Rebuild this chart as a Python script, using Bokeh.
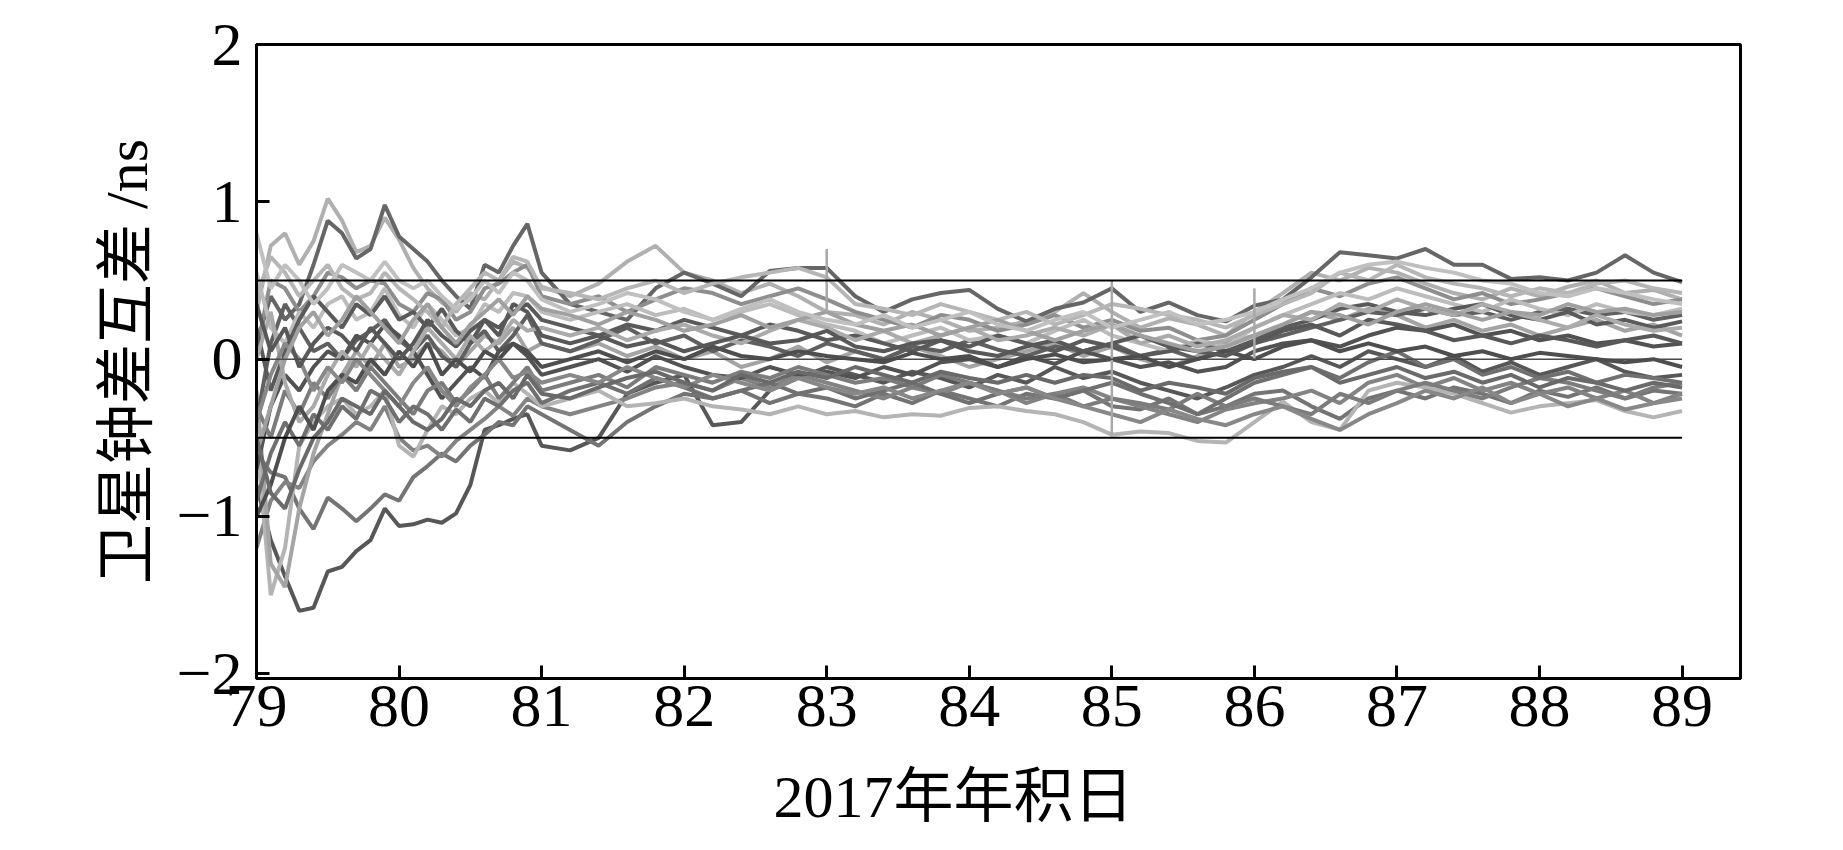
from bokeh.plotting import figure
from bokeh.models import Range1d, FixedTicker
from bokeh.embed import file_html
from bokeh.resources import INLINE

# ---- data ----
days = [79.0, 79.1, 79.2, 79.3, 79.4, 79.5, 79.6, 79.7, 79.8, 79.9, 80.0,
        80.1, 80.2, 80.3, 80.4, 80.5, 80.6, 80.7, 80.8, 80.9, 81.0,
        81.2, 81.4, 81.6, 81.8, 82.0, 82.2, 82.4, 82.6, 82.8, 83.0,
        83.2, 83.4, 83.6, 83.8, 84.0, 84.2, 84.4, 84.6, 84.8, 85.0,
        85.2, 85.4, 85.6, 85.8, 86.0, 86.2, 86.4, 86.6, 86.8, 87.0,
        87.2, 87.4, 87.6, 87.8, 88.0, 88.2, 88.4, 88.6, 88.8, 89.0]

s01 = [0.30, 0.72, 0.80, 0.60, 0.75, 1.02, 0.88, 0.68, 0.72, 0.90, 0.76, 0.58, 0.45, 0.36, 0.30, 0.42, 0.38, 0.50, 0.62, 0.58, 0.46,
       0.40, 0.48, 0.62, 0.72, 0.55, 0.50, 0.42, 0.48, 0.40, 0.30, 0.28, 0.22, 0.30, 0.25, 0.18, 0.20, 0.24, 0.30, 0.42, 0.30,
       0.20, 0.26, 0.22, 0.15, 0.30, 0.42, 0.55, 0.50, 0.58, 0.55, 0.48, 0.42, 0.38, 0.45, 0.40, 0.46, 0.50, 0.42, 0.44, 0.38]
s02 = [0.10, 0.40, 0.25, 0.35, 0.60, 0.88, 0.80, 0.64, 0.70, 0.98, 0.78, 0.70, 0.62, 0.50, 0.40, 0.32, 0.60, 0.55, 0.72, 0.86, 0.55,
       0.35, 0.30, 0.25, 0.45, 0.55, 0.48, 0.40, 0.56, 0.58, 0.58, 0.40, 0.30, 0.38, 0.42, 0.44, 0.32, 0.24, 0.32, 0.36, 0.45,
       0.30, 0.36, 0.28, 0.24, 0.34, 0.38, 0.52, 0.68, 0.66, 0.64, 0.70, 0.60, 0.60, 0.51, 0.52, 0.50, 0.55, 0.66, 0.55, 0.49]
s03 = [-0.80, -1.15, -1.38, -1.60, -1.58, -1.35, -1.32, -1.22, -1.15, -0.95, -1.06, -1.05, -1.02, -1.04, -0.98, -0.80, -0.45, -0.42, -0.38, -0.35, -0.55,
       -0.58, -0.50, -0.22, -0.15, -0.10, -0.42, -0.40, -0.20, -0.12, -0.05, -0.10, -0.15, -0.08, -0.12, -0.18, -0.10, -0.15, -0.05, -0.12, -0.08,
       -0.15, -0.20, -0.25, -0.18, -0.10, -0.05, 0.02, -0.05, 0.05, 0.00, -0.05, 0.02, -0.08, -0.02, -0.10, -0.05, 0.00, -0.08, -0.12, -0.10]
s04 = [-0.60, -0.72, -0.75, -0.95, -1.08, -0.88, -0.95, -1.03, -0.95, -0.86, -0.90, -0.75, -0.68, -0.60, -0.65, -0.55, -0.48, -0.40, -0.42, -0.30, -0.35,
       -0.45, -0.55, -0.40, -0.30, -0.22, -0.25, -0.20, -0.28, -0.22, -0.25, -0.30, -0.22, -0.28, -0.20, -0.25, -0.30, -0.22, -0.25, -0.20, -0.30,
       -0.32, -0.25, -0.35, -0.30, -0.22, -0.20, -0.30, -0.38, -0.25, -0.20, -0.25, -0.18, -0.22, -0.28, -0.20, -0.24, -0.18, -0.25, -0.20, -0.22]
s05 = [-1.20, -0.90, -0.78, -0.82, -0.65, -0.55, -0.48, -0.40, -0.45, -0.30, -0.50, -0.58, -0.55, -0.62, -0.52, -0.45, -0.38, -0.30, -0.36, -0.25, -0.30,
       -0.35, -0.30, -0.25, -0.18, -0.15, -0.20, -0.12, -0.18, -0.10, -0.15, -0.20, -0.25, -0.18, -0.22, -0.15, -0.20, -0.28, -0.22, -0.18, -0.25,
       -0.30, -0.35, -0.40, -0.32, -0.28, -0.25, -0.20, -0.28, -0.15, -0.10, -0.18, -0.12, -0.20, -0.15, -0.22, -0.18, -0.25, -0.20, -0.28, -0.22]
s06 = [-0.50, -1.50, -1.20, -0.55, -0.40, -0.30, -0.25, -0.35, -0.30, -0.20, -0.55, -0.62, -0.45, -0.30, -0.35, -0.25, -0.20, -0.28, -0.15, -0.22, -0.30,
       -0.25, -0.20, -0.30, -0.28, -0.25, -0.30, -0.32, -0.35, -0.30, -0.35, -0.33, -0.37, -0.35, -0.36, -0.31, -0.30, -0.33, -0.35, -0.40, -0.48,
       -0.46, -0.47, -0.52, -0.53, -0.40, -0.27, -0.40, -0.45, -0.20, -0.15, -0.18, -0.22, -0.28, -0.34, -0.30, -0.28, -0.26, -0.33, -0.37, -0.33]
s07 = [-0.20, -1.30, -1.45, -0.95, -0.60, -0.35, -0.10, 0.05, -0.05, 0.10, -0.05, 0.00, 0.10, 0.05, -0.05, 0.05, 0.15, 0.10, 0.20, 0.05, 0.10,
       0.05, 0.10, 0.02, 0.08, 0.00, 0.05, -0.05, 0.00, 0.08, -0.02, 0.05, 0.00, 0.08, 0.02, -0.05, 0.00, 0.05, 0.10, 0.02, 0.08,
       0.00, -0.05, 0.02, 0.10, 0.15, 0.22, 0.30, 0.25, 0.32, 0.28, 0.20, 0.25, 0.18, 0.22, 0.15, 0.20, 0.25, 0.18, 0.22, 0.15]
s08 = [-0.40, 0.10, 0.35, 0.20, 0.05, 0.10, 0.00, 0.12, 0.18, 0.25, 0.12, 0.05, 0.15, 0.02, -0.05, 0.10, 0.18, 0.05, 0.15, 0.28, 0.10,
       0.05, 0.12, 0.20, 0.10, 0.15, 0.05, 0.12, 0.08, 0.02, 0.10, 0.05, 0.00, 0.08, 0.05, 0.12, 0.06, 0.02, 0.08, 0.05, 0.10,
       0.02, 0.06, 0.00, 0.05, 0.10, 0.15, 0.20, 0.25, 0.30, 0.28, 0.32, 0.28, 0.30, 0.25, 0.30, 0.32, 0.28, 0.30, 0.25, 0.28]
s09 = [-0.70, -0.30, -0.10, -0.20, -0.05, 0.05, 0.00, 0.15, 0.10, 0.22, 0.15, 0.05, -0.10, -0.25, -0.15, -0.05, -0.12, 0.05, 0.10, 0.02, -0.10,
       -0.05, 0.00, -0.08, 0.02, -0.05, -0.10, -0.12, -0.05, -0.10, -0.08, -0.12, -0.05, -0.10, -0.02, 0.00, -0.05, 0.02, -0.03, 0.05, 0.00,
       -0.05, -0.02, -0.08, -0.05, 0.05, 0.10, 0.12, 0.08, 0.15, 0.20, 0.18, 0.22, 0.15, 0.18, 0.12, 0.15, 0.10, 0.12, 0.08, 0.10]
s10 = [0.05, 0.50, 0.45, 0.30, 0.40, 0.55, 0.52, 0.45, 0.50, 0.48, 0.35, 0.30, 0.42, 0.38, 0.25, 0.30, 0.45, 0.48, 0.55, 0.60, 0.40,
       0.35, 0.40, 0.30, 0.38, 0.45, 0.42, 0.35, 0.40, 0.45, 0.38, 0.30, 0.25, 0.20, 0.28, 0.25, 0.18, 0.22, 0.28, 0.20, 0.25,
       0.18, 0.20, 0.12, 0.15, 0.25, 0.35, 0.45, 0.40, 0.48, 0.52, 0.45, 0.38, 0.42, 0.35, 0.38, 0.42, 0.45, 0.40, 0.35, 0.38]
s11 = [0.55, 0.20, 0.10, 0.30, 0.20, 0.35, 0.40, 0.25, 0.30, 0.45, 0.28, 0.20, 0.35, 0.25, 0.15, 0.20, 0.35, 0.30, 0.42, 0.40, 0.30,
       0.25, 0.30, 0.35, 0.28, 0.32, 0.25, 0.30, 0.35, 0.28, 0.22, 0.18, 0.10, 0.15, 0.20, 0.12, 0.15, 0.10, 0.18, 0.25, 0.15,
       0.10, 0.05, 0.12, 0.08, 0.20, 0.28, 0.35, 0.42, 0.38, 0.45, 0.40, 0.35, 0.30, 0.38, 0.32, 0.28, 0.35, 0.30, 0.28, 0.32]
s12 = [-0.30, -0.50, -0.20, -0.35, -0.15, -0.25, -0.10, -0.20, -0.05, -0.15, -0.25, -0.35, -0.20, -0.15, -0.28, -0.20, -0.10, -0.25, -0.15, -0.05, -0.20,
       -0.15, -0.10, -0.18, -0.05, -0.10, -0.15, -0.08, -0.12, -0.05, -0.10, -0.15, -0.12, -0.18, -0.10, -0.15, -0.20, -0.25, -0.22, -0.30, -0.25,
       -0.28, -0.32, -0.22, -0.30, -0.25, -0.30, -0.35, -0.22, -0.28, -0.20, -0.15, -0.20, -0.25, -0.18, -0.12, -0.15, -0.20, -0.25, -0.18, -0.15]
s13 = [0.20, -0.20, 0.05, 0.25, 0.40, 0.30, 0.20, 0.35, 0.28, 0.40, 0.25, 0.30, 0.20, 0.32, 0.18, 0.10, 0.25, 0.20, 0.30, 0.35, 0.25,
       0.20, 0.15, 0.22, 0.18, 0.25, 0.20, 0.15, 0.22, 0.18, 0.12, 0.15, 0.10, 0.05, 0.12, 0.08, 0.15, 0.10, 0.05, 0.12, 0.08,
       0.02, 0.05, 0.10, 0.05, 0.12, 0.20, 0.25, 0.32, 0.35, 0.30, 0.28, 0.32, 0.35, 0.28, 0.25, 0.30, 0.22, 0.25, 0.20, 0.24]
s14 = [0.00, 0.30, -0.15, -0.40, -0.30, -0.10, 0.05, -0.05, 0.10, 0.00, -0.10, 0.05, 0.20, 0.10, 0.00, 0.15, 0.05, 0.12, 0.25, 0.18, 0.20,
       0.15, 0.20, 0.12, 0.18, 0.22, 0.15, 0.10, 0.18, 0.25, 0.20, 0.12, 0.18, 0.10, 0.15, 0.20, 0.12, 0.15, 0.20, 0.15, 0.22,
       0.10, 0.15, 0.08, 0.12, 0.20, 0.28, 0.25, 0.35, 0.30, 0.38, 0.32, 0.28, 0.35, 0.30, 0.25, 0.20, 0.28, 0.22, 0.18, 0.20]
s15 = [-0.90, -0.60, -0.40, -0.55, -0.35, -0.45, -0.30, -0.38, -0.20, -0.25, -0.40, -0.30, -0.35, -0.45, -0.32, -0.40, -0.25, -0.30, -0.20, -0.15, -0.28,
       -0.20, -0.15, -0.22, -0.12, -0.18, -0.25, -0.20, -0.15, -0.22, -0.18, -0.25, -0.20, -0.15, -0.22, -0.28, -0.22, -0.18, -0.25, -0.20, -0.15,
       -0.22, -0.28, -0.35, -0.25, -0.15, -0.10, -0.05, -0.12, -0.02, 0.05, -0.05, 0.00, -0.10, -0.05, -0.12, -0.08, -0.15, -0.10, -0.12, -0.15]
s16 = [-1.00, -0.80, -0.50, -0.30, -0.45, -0.20, -0.10, -0.15, 0.00, -0.10, 0.05, -0.05, 0.10, -0.10, 0.00, -0.08, 0.05, 0.00, 0.10, 0.05, -0.05,
       0.00, 0.05, -0.02, 0.05, 0.00, 0.08, 0.02, 0.00, 0.05, 0.02, 0.00, -0.02, 0.04, 0.00, 0.02, -0.05, 0.00, 0.03, -0.02, 0.00,
       0.02, -0.05, 0.00, 0.05, 0.00, 0.08, 0.12, 0.05, 0.10, 0.05, 0.08, 0.02, 0.05, 0.00, 0.04, 0.02, 0.00, -0.02, 0.00, -0.05]
s17 = [0.40, 0.65, 0.55, 0.40, 0.50, 0.60, 0.45, 0.38, 0.42, 0.55, 0.45, 0.38, 0.30, 0.20, 0.35, 0.45, 0.55, 0.50, 0.65, 0.62, 0.45,
       0.42, 0.38, 0.45, 0.50, 0.42, 0.48, 0.52, 0.55, 0.58, 0.52, 0.35, 0.32, 0.28, 0.35, 0.30, 0.25, 0.30, 0.22, 0.28, 0.35,
       0.32, 0.28, 0.25, 0.20, 0.28, 0.35, 0.42, 0.55, 0.50, 0.60, 0.52, 0.48, 0.45, 0.40, 0.45, 0.42, 0.48, 0.50, 0.45, 0.42]
s18 = [-0.40, -0.10, 0.10, 0.00, -0.20, -0.05, -0.15, 0.00, -0.10, -0.20, -0.30, -0.15, -0.05, -0.20, -0.30, -0.18, -0.10, 0.00, -0.12, -0.08, -0.15,
       -0.10, -0.15, -0.05, -0.12, -0.18, -0.10, -0.15, -0.20, -0.12, -0.18, -0.22, -0.18, -0.25, -0.20, -0.15, -0.22, -0.18, -0.25, -0.30, -0.35,
       -0.40, -0.32, -0.38, -0.42, -0.35, -0.30, -0.38, -0.45, -0.35, -0.28, -0.20, -0.25, -0.18, -0.28, -0.22, -0.30, -0.25, -0.32, -0.28, -0.25]
s19 = [0.35, 0.05, 0.20, -0.05, 0.10, 0.20, 0.15, 0.05, 0.20, 0.10, 0.00, 0.10, 0.25, 0.15, 0.08, 0.18, 0.25, 0.15, 0.35, 0.30, 0.15,
       0.10, 0.15, 0.08, 0.12, 0.05, 0.10, 0.15, 0.10, 0.12, 0.18, 0.08, 0.05, 0.10, 0.12, 0.05, 0.02, 0.08, 0.12, 0.05, 0.10,
       0.15, 0.08, 0.05, 0.02, 0.10, 0.18, 0.22, 0.15, 0.25, 0.22, 0.18, 0.12, 0.15, 0.10, 0.15, 0.12, 0.08, 0.12, 0.15, 0.10]
s20 = [-0.60, -0.30, 0.00, 0.20, 0.30, 0.15, 0.25, 0.40, 0.30, 0.20, 0.10, 0.25, 0.35, 0.20, 0.10, 0.22, 0.30, 0.38, 0.28, 0.40, 0.32,
       0.28, 0.22, 0.30, 0.25, 0.18, 0.22, 0.28, 0.20, 0.25, 0.30, 0.22, 0.18, 0.22, 0.15, 0.20, 0.25, 0.18, 0.12, 0.18, 0.22,
       0.15, 0.10, 0.05, 0.08, 0.15, 0.22, 0.30, 0.28, 0.22, 0.30, 0.35, 0.30, 0.25, 0.30, 0.28, 0.35, 0.30, 0.32, 0.28, 0.30]
s21 = [-0.50, -0.85, -0.95, -0.70, -0.50, -0.40, -0.25, -0.30, -0.35, -0.20, -0.30, -0.40, -0.45, -0.38, -0.25, -0.30, -0.20, -0.15, -0.25, -0.10, -0.22,
       -0.25, -0.18, -0.12, -0.08, -0.15, -0.20, -0.10, -0.15, -0.08, -0.12, -0.05, -0.10, -0.15, -0.08, -0.12, -0.15, -0.10, -0.15, -0.10, -0.12,
       -0.20, -0.15, -0.18, -0.22, -0.12, -0.08, -0.05, -0.15, -0.10, -0.05, -0.12, -0.08, -0.15, -0.10, -0.18, -0.12, -0.15, -0.20, -0.15, -0.18]
s22 = [0.80, 0.45, 0.60, 0.50, 0.35, 0.45, 0.60, 0.55, 0.50, 0.62, 0.50, 0.45, 0.50, 0.40, 0.32, 0.38, 0.50, 0.42, 0.55, 0.50, 0.38,
       0.30, 0.35, 0.42, 0.38, 0.30, 0.25, 0.32, 0.38, 0.30, 0.25, 0.22, 0.28, 0.20, 0.25, 0.30, 0.22, 0.18, 0.25, 0.30, 0.20,
       0.25, 0.30, 0.22, 0.25, 0.30, 0.38, 0.45, 0.55, 0.60, 0.62, 0.58, 0.55, 0.50, 0.48, 0.42, 0.40, 0.45, 0.42, 0.38, 0.35]

series = [s01, s02, s03, s04, s05, s06, s07, s08, s09, s10, s11,
          s12, s13, s14, s15, s16, s17, s18, s19, s20, s21, s22]
series_colors = ["#b0b0b0", "#666666", "#575757", "#747474", "#838383", "#b4b4b4",
                 "#a4a4a4", "#606060", "#525252", "#8e8e8e", "#bcbcbc", "#7c7c7c",
                 "#5a5a5a", "#ababab", "#707070", "#4e4e4e", "#b6b6b6", "#888888",
                 "#585858", "#a0a0a0", "#6a6a6a", "#c0c0c0"]

# day-boundary jumps (vertical strokes) seen at 83, 85 and 86
jump_days = [83.0, 85.0, 86.0]
jump_low = [0.30, -0.48, 0.00]
jump_high = [0.70, 0.50, 0.45]

ref_days = [79, 89]
ref_levels = [0.5, -0.5]
zero_level = 0.0

x_ticks = [79, 80, 81, 82, 83, 84, 85, 86, 87, 88, 89]
y_ticks = [-2, -1, 0, 1, 2]
y_tick_labels = {-2: "\u22122", -1: "\u22121", 0: "0", 1: "1", 2: "2"}

x_title = "2017年年积日" + "\u00a0" * 6
y_title = "卫星钟差互差 /ns"

for i, s in enumerate(series):
    if len(s) != len(days):
        raise ValueError(f"series {i+1} has {len(s)} values")

FONT = "Liberation Serif, Noto Sans CJK SC"

p = figure(width=1843, height=850, output_backend="svg", toolbar_location=None,
           x_range=Range1d(79, 89.41), y_range=Range1d(-2.03, 2.0),
           min_border_left=256, min_border_right=103, min_border_top=44,
           min_border_bottom=172)
p.background_fill_color = "white"
p.border_fill_color = "white"
p.outline_line_color = "black"
p.outline_line_width = 3
p.xgrid.visible = False
p.ygrid.visible = False

for s, c in zip(series, series_colors):
    p.line(days, s, line_color=c, line_width=4)

p.segment(x0=jump_days, y0=jump_low, x1=jump_days, y1=jump_high,
          line_color="#a8a8a8", line_width=2.5)

p.line(ref_days, [zero_level, zero_level], line_color="#4a4a4a", line_width=1.5)
for lv in ref_levels:
    p.line(ref_days, [lv, lv], line_color="black", line_width=2)

for ax in (p.xaxis[0], p.yaxis[0]):
    ax.axis_line_width = 3
    ax.axis_line_color = "black"
    ax.major_tick_in = 13
    ax.major_tick_out = 0
    ax.minor_tick_in = 0
    ax.minor_tick_out = 0
    ax.major_tick_line_width = 3
    ax.major_tick_line_color = "black"
    ax.major_label_text_font = FONT
    ax.major_label_text_font_size = "62px"
    ax.major_label_text_color = "black"

p.xaxis.ticker = FixedTicker(ticks=x_ticks)
p.yaxis.ticker = FixedTicker(ticks=y_ticks)
p.yaxis.major_label_overrides = y_tick_labels
p.xaxis.major_label_standoff = 7
p.yaxis.major_label_standoff = 14

p.yaxis.axis_label = y_title
p.yaxis.axis_label_text_font = FONT
p.yaxis.axis_label_text_font_size = "60px"
p.yaxis.axis_label_text_font_style = "normal"
p.yaxis.axis_label_text_color = "black"
p.yaxis.axis_label_standoff = 14

p.xaxis.axis_label = x_title
p.xaxis.axis_label_text_font = FONT
p.xaxis.axis_label_text_font_size = "60px"
p.xaxis.axis_label_text_font_style = "normal"
p.xaxis.axis_label_text_color = "black"
p.xaxis.axis_label_standoff = 35

open("out.html", "w").write(file_html(p, INLINE))
